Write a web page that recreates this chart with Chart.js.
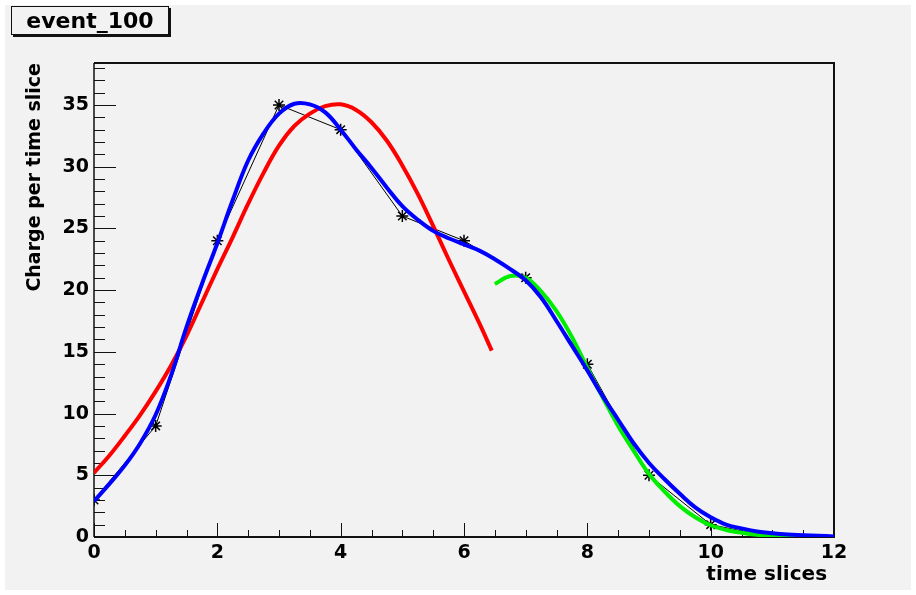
<!DOCTYPE html>
<html>
<head>
<meta charset="utf-8">
<script src="https://cdn.jsdelivr.net/npm/chart.js@4"></script>
<style>
  html, body { margin: 0; padding: 0; background: #ffffff; }
  #wrap { position: relative; width: 916px; height: 595px; }
  #title {
    position: absolute; left: 11px; top: 6px; width: 156px; height: 27px;
    border: 1px solid #111; background: #f2f2f2; box-shadow: 2px 2px 0 #111;
    font: bold 22px "DejaVu Sans", sans-serif; text-align: center; line-height: 27px; color: #000;
  }
</style>
</head>
<body>
<div id="wrap">
  <canvas id="eventChart" width="916" height="595"></canvas>
  <div id="title">event_100</div>
</div>
<script>
// measured samples (time slice index -> charge)
const pointX = [0, 1, 2, 3, 4, 5, 6, 7, 8, 9, 10, 11];
const pointY = [3, 9, 24, 35, 33, 26, 24, 21, 14, 5, 1, 0];

// red fit, rising edge (read every 0.25)
const redX = [0, 0.25, 0.5, 0.75, 1, 1.25, 1.5, 1.75, 2, 2.25, 2.5, 2.75, 3, 3.25, 3.5, 3.75, 4, 4.25, 4.5, 4.75, 5, 5.25, 5.5, 5.75, 6, 6.25, 6.45];
const redY = [5.2, 6.6, 8.2, 9.9, 11.8, 13.9, 16.3, 19.0, 21.7, 24.3, 27.0, 29.5, 31.7, 33.3, 34.3, 34.9, 35.05, 34.6, 33.6, 32.1, 30.1, 27.8, 25.2, 22.5, 19.9, 17.3, 15.1];

// blue fit, whole pulse
const blueX = [0, 0.25, 0.5, 0.75, 1, 1.25, 1.5, 1.75, 2, 2.25, 2.5, 2.75, 3, 3.25, 3.5, 3.75, 4, 4.25, 4.5, 4.75, 5, 5.25, 5.5, 5.75, 6, 6.25,
               6.5, 6.75, 7, 7.25, 7.5, 7.75, 8, 8.25, 8.5, 8.75, 9, 9.25, 9.5, 9.75, 10, 10.25, 10.5, 10.75, 11, 11.25, 11.5, 11.75, 12];
const blueY = [2.9, 4.3, 5.8, 7.6, 9.9, 13.1, 17.0, 20.5, 23.8, 27.3, 30.5, 32.7, 34.3, 35.1, 35.05, 34.4, 33.0, 31.4, 29.9, 28.3, 26.8, 25.7, 24.8, 24.2, 23.7, 23.2,
               22.5, 21.7, 20.8, 19.4, 17.5, 15.5, 13.5, 11.4, 9.5, 7.6, 6.0, 4.7, 3.5, 2.4, 1.6, 1.0, 0.7, 0.45, 0.3, 0.2, 0.15, 0.1, 0.05];

// green fit, tail
const greenX = [6.5, 6.75, 7, 7.25, 7.5, 7.75, 8, 8.25, 8.5, 8.75, 9, 9.25, 9.5, 9.75, 10, 10.25, 10.5, 10.75, 11, 11.25, 11.5, 11.75, 12];
const greenY = [20.5, 21.15, 21.0, 19.9, 18.3, 16.2, 13.7, 11.3, 9.0, 7.0, 5.1, 3.7, 2.5, 1.6, 0.95, 0.57, 0.35, 0.19, 0.1, 0.06, 0.03, 0.01, 0];

const xTicks = { min: 0, max: 12, major: 2, minor: 0.5 };
const yTicks = { min: 0, max: 38.4, major: 5, minor: 1 };

const toXY = (xs, ys) => xs.map((x, i) => ({ x: x, y: ys[i] }));

const font = { family: "DejaVu Sans", weight: "bold", size: 19 };

// ROOT-style frame with inward ticks
const rootFrame = {
    id: "rootFrame",
    beforeDraw(chart) {
        const ctx = chart.ctx;
        ctx.save();
        ctx.fillStyle = "#f2f2f2";
        ctx.fillRect(5, 5, 906, 585);
        ctx.restore();
    },
    beforeDatasetsDraw(chart) {
        const { ctx, chartArea: a, scales } = chart;
        ctx.save();
        ctx.strokeStyle = "#111";
        ctx.lineWidth = 1;
        // y ticks
        for (let v = yTicks.min; v <= yTicks.max; v += yTicks.minor) {
            const py = Math.round(scales.y.getPixelForValue(v)) + 0.5;
            const len = v % yTicks.major === 0 ? 22 : 11;
            ctx.beginPath();
            ctx.moveTo(a.left, py);
            ctx.lineTo(a.left + len, py);
            ctx.stroke();
        }
        // x ticks
        for (let v = xTicks.min; v <= xTicks.max + 1e-6; v += xTicks.minor) {
            const px = Math.round(scales.x.getPixelForValue(v)) + 0.5;
            const len = Math.abs(v % xTicks.major) < 1e-6 ? 14 : 7;
            ctx.beginPath();
            ctx.moveTo(px, a.bottom);
            ctx.lineTo(px, a.bottom - len);
            ctx.stroke();
        }
        // frame
        ctx.lineWidth = 1.5;
        ctx.beginPath();
        ctx.moveTo(a.left, a.top);
        ctx.lineTo(a.left, a.bottom);
        ctx.stroke();
        ctx.lineWidth = 2;
        ctx.beginPath();
        ctx.moveTo(a.left, a.bottom);
        ctx.lineTo(a.right, a.bottom);
        ctx.lineTo(a.right, a.top);
        ctx.lineTo(a.left, a.top);
        ctx.stroke();
        ctx.restore();
    }
};

new Chart(document.getElementById("eventChart"), {
    type: "line",
    data: {
        datasets: [
            {
                label: "samples",
                data: toXY(pointX, pointY),
                borderColor: "#000",
                borderWidth: 1,
                pointStyle: "star",
                pointRadius: 6,
                pointBorderColor: "#000",
                pointBorderWidth: 1.5,
                tension: 0,
                order: 4
            },
            {
                label: "red",
                data: toXY(redX, redY),
                borderColor: "#ff0000",
                borderWidth: 4,
                pointRadius: 0,
                tension: 0.4,
                order: 3
            },
            {
                label: "green",
                data: toXY(greenX, greenY),
                borderColor: "#00ee00",
                borderWidth: 4,
                pointRadius: 0,
                tension: 0.4,
                order: 2
            },
            {
                label: "blue",
                data: toXY(blueX, blueY),
                borderColor: "#0000ff",
                borderWidth: 4,
                pointRadius: 0,
                tension: 0.4,
                order: 1
            }
        ]
    },
    options: {
        responsive: false,
        animation: false,
        layout: { padding: { left: 0, top: 63, right: 82, bottom: 0 } },
        plugins: { legend: { display: false }, tooltip: { enabled: false } },
        scales: {
            x: {
                type: "linear",
                min: xTicks.min,
                max: xTicks.max,
                grid: { display: false, drawTicks: false },
                border: { display: false },
                ticks: { stepSize: xTicks.major, padding: 5, color: "#000", font: font },
                title: {
                    display: true, text: "time slices ", align: "end", color: "#000",
                    font: { family: "DejaVu Sans", weight: "bold", size: 20 },
                    padding: { top: 0, bottom: 8 }
                },
                afterFit(s) { s.height = 58; }
            },
            y: {
                min: yTicks.min,
                max: yTicks.max,
                grid: { display: false, drawTicks: false },
                border: { display: false },
                ticks: { stepSize: yTicks.major, includeBounds: false, padding: 5, color: "#000", font: font },
                title: {
                    display: true, text: "Charge per time slice", align: "end", color: "#000",
                    font: { family: "DejaVu Sans", weight: "bold", size: 19 },
                    padding: { top: 24, bottom: 0 }
                },
                afterFit(s) { s.width = 94; }
            }
        }
    },
    plugins: [rootFrame]
});
</script>
</body>
</html>
